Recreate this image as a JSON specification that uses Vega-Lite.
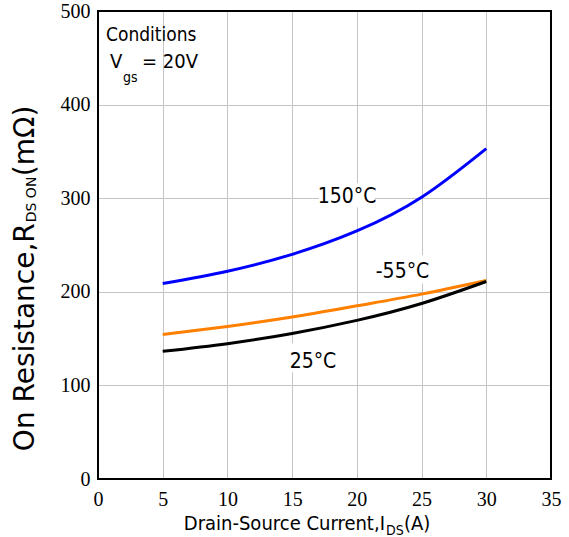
{
  "$schema": "https://vega.github.io/schema/vega-lite/v6.json",
  "width": 453,
  "height": 468,
  "autosize": "none",
  "padding": {"left": 98, "top": 11, "right": 18, "bottom": 58},
  "background": "white",
  "config": {
    "view": {"stroke": "black", "strokeWidth": 2},
    "axis": {"labelFont": "Liberation Serif", "labelFontSize": 20, "labelColor": "black", "gridColor": "#c4c4c4", "gridWidth": 1}
  },
  "encoding": {
    "x": {"field": "x", "type": "quantitative", "scale": {"domain": [0, 35], "nice": false, "zero": false}, "axis": {"title": null, "values": [0, 5, 10, 15, 20, 25, 30, 35], "labelPadding": 10, "labelFlush": false, "labelFont": "Liberation Serif", "labelFontSize": 20, "ticks": false, "tickSize": 0, "domain": false, "grid": true}},
    "y": {"field": "y", "type": "quantitative", "scale": {"domain": [0, 500], "nice": false, "zero": false}, "axis": {"title": null, "values": [0, 100, 200, 300, 400, 500], "labelPadding": 8, "labelFont": "Liberation Serif", "labelFontSize": 20, "ticks": false, "tickSize": 0, "domain": false, "grid": true}}
  },
  "layer": [
    {
      "data": {"values": [
        {"x": 17.07, "x2": 21.4, "y": 290, "y2": 316},
        {"x": 21.48, "x2": 25.57, "y": 209, "y2": 239},
        {"x": 14.83, "x2": 18.39, "y": 114, "y2": 145}
      ]},
      "mark": {"type": "rect", "fill": "white"},
      "encoding": {"x2": {"field": "x2"}, "y2": {"field": "y2"}}
    },
    {
      "data": {"values": [
        {"x": 5, "y": 208.8, "series": "150°C"},
        {"x": 10, "y": 222, "series": "150°C"},
        {"x": 15, "y": 240, "series": "150°C"},
        {"x": 20, "y": 265, "series": "150°C"},
        {"x": 25, "y": 301, "series": "150°C"},
        {"x": 30, "y": 353, "series": "150°C"},
        {"x": 5, "y": 154.5, "series": "-55°C"},
        {"x": 10, "y": 163, "series": "-55°C"},
        {"x": 15, "y": 173, "series": "-55°C"},
        {"x": 20, "y": 185, "series": "-55°C"},
        {"x": 25, "y": 197.5, "series": "-55°C"},
        {"x": 30, "y": 212, "series": "-55°C"},
        {"x": 5, "y": 136.4, "series": "25°C"},
        {"x": 10, "y": 144.6, "series": "25°C"},
        {"x": 15, "y": 155.5, "series": "25°C"},
        {"x": 20, "y": 169.5, "series": "25°C"},
        {"x": 25, "y": 187.5, "series": "25°C"},
        {"x": 30, "y": 211, "series": "25°C"}
      ]},
      "mark": {"type": "line", "interpolate": "natural", "strokeWidth": 3},
      "encoding": {
        "color": {"field": "series", "type": "nominal", "scale": {"domain": ["150°C", "-55°C", "25°C"], "range": ["#0000ff", "#ff8000", "#000000"]}, "legend": null}
      }
    },
    {
      "data": {"values": [{"x": 0, "x2": 35, "y": 0, "y2": 500}]},
      "mark": {"type": "rect", "fill": null, "fillOpacity": 0, "stroke": "black", "strokeWidth": 2},
      "encoding": {"x2": {"field": "x2"}, "y2": {"field": "y2"}}
    },
    {
      "data": {"values": [
        {"x": 19.24, "y": 294.6, "label": "150°C"},
        {"x": 23.53, "y": 214.4, "label": "-55°C"},
        {"x": 16.61, "y": 118.2, "label": "25°C"}
      ]},
      "mark": {"type": "text", "font": "DejaVu Sans Condensed, DejaVu Sans", "fontSize": 21, "align": "center", "baseline": "alphabetic", "color": "black"},
      "encoding": {"text": {"field": "label"}}
    },
    {
      "data": {"values": [
        {"x": 0.62, "y": 468, "label": "Conditions", "size": 19},
        {"x": 0.93, "y": 439, "label": "V", "size": 20},
        {"x": 1.93, "y": 424, "label": "gs", "size": 14},
        {"x": 3.4, "y": 439, "label": "= 20V", "size": 20},
        {"x": 22.25, "y": -59.5, "label": "DS", "size": 14},
        {"x": 23.64, "y": -54, "label": "(A)", "size": 20}
      ]},
      "mark": {"type": "text", "font": "DejaVu Sans Condensed, DejaVu Sans", "align": "left", "baseline": "alphabetic", "color": "black"},
      "encoding": {"text": {"field": "label"}, "size": {"field": "size", "type": "quantitative", "scale": null}}
    },
    {
      "data": {"values": [
        {"x": 22.17, "y": -54, "label": "Drain-Source Current,I"}
      ]},
      "mark": {"type": "text", "font": "DejaVu Sans Condensed, DejaVu Sans", "fontSize": 20, "align": "right", "baseline": "alphabetic", "color": "black"},
      "encoding": {"text": {"field": "label"}}
    },
    {
      "data": {"values": [
        {"x": -4.945, "y": 273.3, "label": "On Resistance,R"}
      ]},
      "mark": {"type": "text", "font": "DejaVu Sans", "fontSize": 28, "angle": 270, "align": "right", "baseline": "alphabetic", "color": "black"},
      "encoding": {"text": {"field": "label"}}
    },
    {
      "data": {"values": [
        {"x": -4.8, "y": 274.3, "label": "DS ON", "size": 14},
        {"x": -4.945, "y": 323.5, "label": "(mΩ)", "size": 28}
      ]},
      "mark": {"type": "text", "font": "DejaVu Sans", "angle": 270, "align": "left", "baseline": "alphabetic", "color": "black"},
      "encoding": {"text": {"field": "label"}, "size": {"field": "size", "type": "quantitative", "scale": null}}
    }
  ]
}
